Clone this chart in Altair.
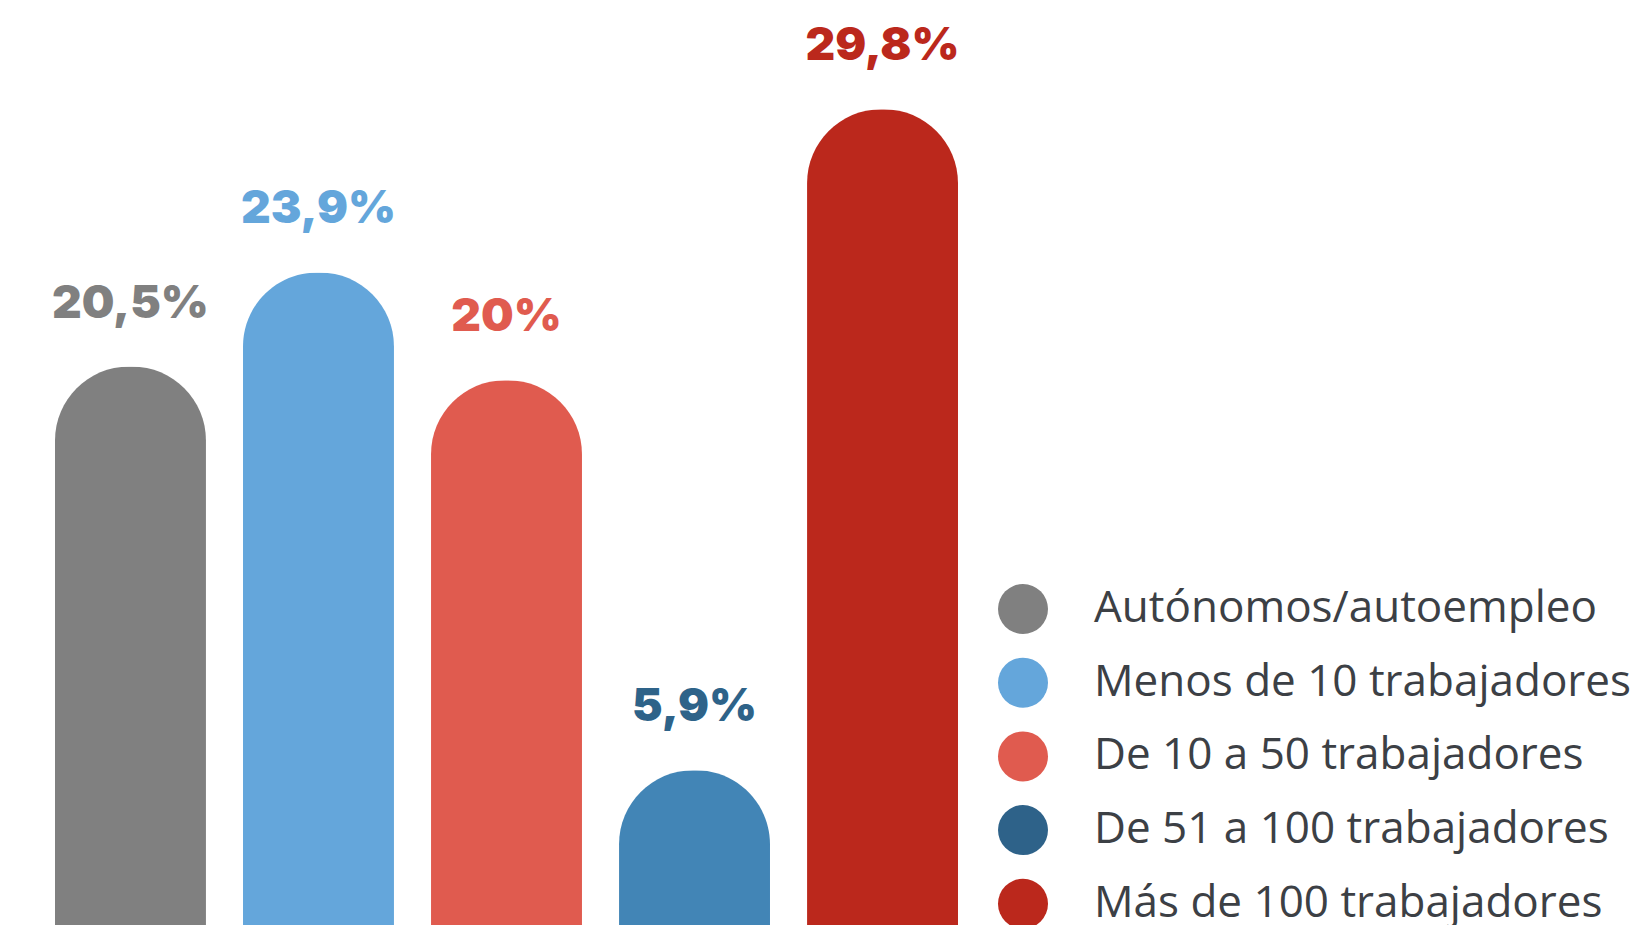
import altair as alt
import pandas as pd

categories = [
    "Autónomos/autoempleo",
    "Menos de 10 trabajadores",
    "De 10 a 50 trabajadores",
    "De 51 a 100 trabajadores",
    "Más de 100 trabajadores",
]
values = [20.5, 23.9, 20.0, 5.9, 29.8]
labels = ["20,5%", "23,9%", "20%", "5,9%", "29,8%"]
bar_colors = ["#808080", "#64a6db", "#e05b4f", "#4285b6", "#bb281c"]
label_colors = ["#808080", "#64a6db", "#e05b4f", "#2e6389", "#bb281c"]
legend_colors = ["#808080", "#64a6db", "#e05b4f", "#2e6289", "#bb281c"]

df = pd.DataFrame({
    "cat": categories,
    "value": values,
    "label": labels,
    "bar_color": bar_colors,
    "label_color": label_colors,
})

x = alt.X("cat:N", sort=categories, axis=None,
          scale=alt.Scale(paddingInner=0.197, paddingOuter=0))
y = alt.Y("value:Q", axis=None,
          scale=alt.Scale(domain=[-0.16, 33.46], zero=False, nice=False))

bars = alt.Chart(df).mark_bar(
    cornerRadiusTopLeft=74, cornerRadiusTopRight=74
).encode(x=x, y=y, color=alt.Color("bar_color:N", scale=None))

text = alt.Chart(df).mark_text(
    dy=-49, baseline="alphabetic", font="Inter", fontWeight=900, fontSize=46
).encode(x=x, y=y, text="label:N", color=alt.Color("label_color:N", scale=None))

leg = alt.Chart(df).mark_point(opacity=0, filled=True, shape="circle").encode(
    x=x, y=y,
    fill=alt.Fill(
        "cat:N", sort=categories,
        scale=alt.Scale(domain=categories, range=legend_colors),
        legend=alt.Legend(
            title=None, orient="none", legendX=943, legendY=576,
            symbolType="circle", symbolSize=2500, symbolOpacity=1,
            symbolStrokeWidth=0, labelFont="Open Sans", labelFontSize=44,
            labelColor="#3c4045", labelOffset=46, rowPadding=23.7,
            padding=0, labelLimit=1000,
        ),
    ),
)

chart = alt.layer(bars, text, leg).properties(
    width=903, height=930,
    padding={"left": 47, "top": 0, "right": 679, "bottom": 0},
    autosize="none",
).configure_view(stroke=None)

chart.save("out.html", embed_options={"renderer": "svg", "actions": False})
